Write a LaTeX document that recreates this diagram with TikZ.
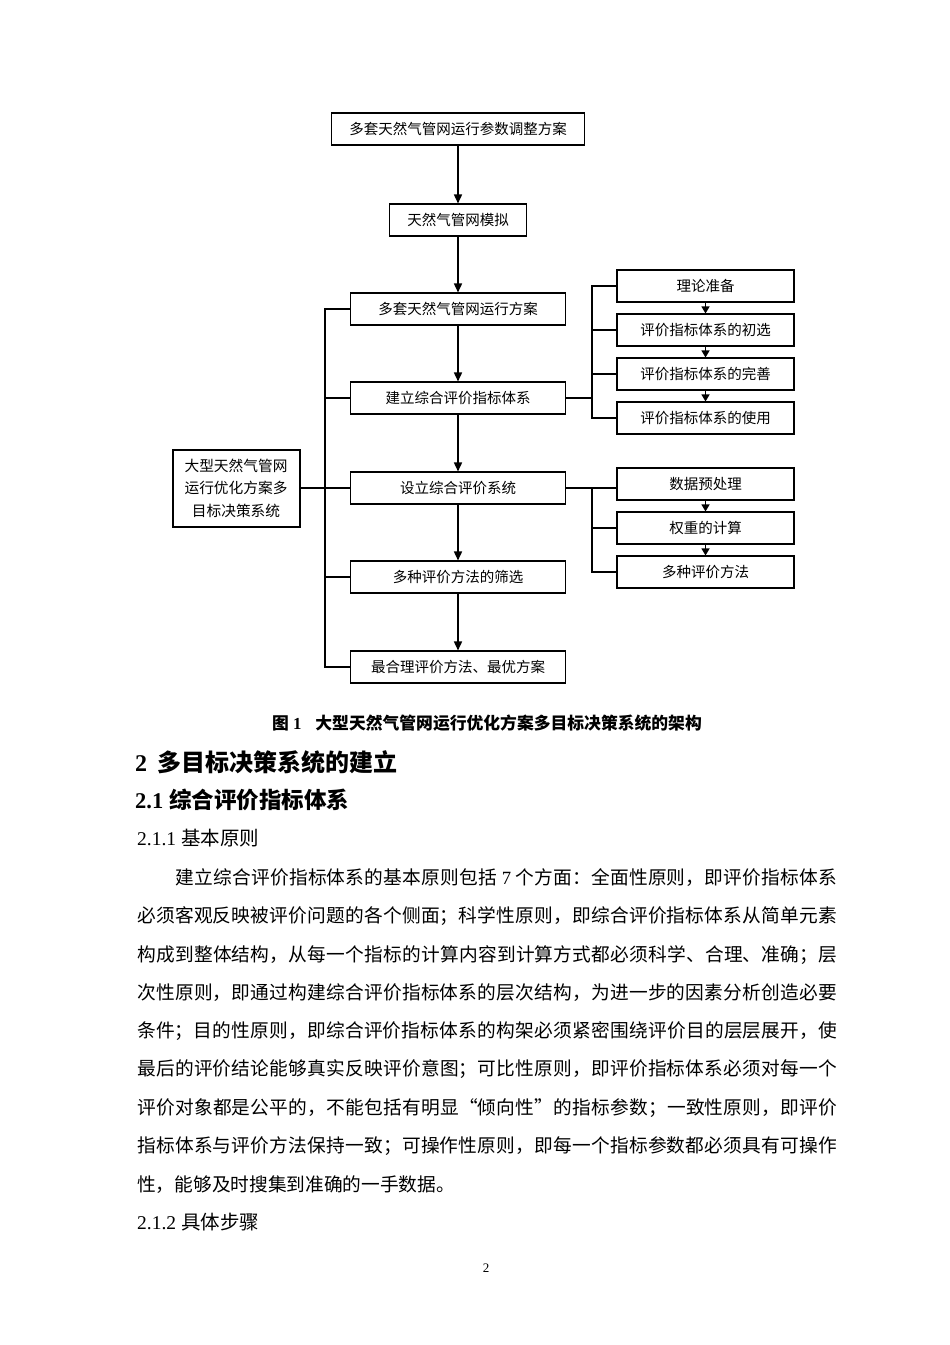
\documentclass[tikz,border=0pt]{standalone}
\usepackage{fontspec}
\setmainfont{Liberation Serif}
\newfontfamily\cjk{Noto Sans CJK SC}
\usetikzlibrary{arrows.meta}
\XeTeXlinebreaklocale "zh"
\XeTeXlinebreakskip=0pt plus 4pt
\tikzset{
 box/.style={draw, line width=1.1pt, minimum height=32pt, inner sep=0pt, font=\cjk\fontsize{14.5}{17}\selectfont},
 rbox/.style={box, minimum width=177pt},
 mbox/.style={box, minimum width=215pt},
 arr/.style={line width=1.6pt, -{Triangle[length=9pt,width=8pt]}},
 sarr/.style={line width=1.3pt, -{Triangle[length=7pt,width=8pt]}},
 conn/.style={line width=1.1pt},
 txt/.style={anchor=west, inner sep=0pt},
 body/.style={txt, font=\cjk\fontsize{18.7}{20}\selectfont},
}
\newcommand\jl[2]{\parbox[c]{#1}{\parindent=0pt\parfillskip=0pt\hbadness=10000 #2}}
\begin{document}
\begin{tikzpicture}[x=1pt,y=-1pt]
\useasboundingbox[fill=white] (0,0) rectangle (950,1345);
% main column
\node[box, minimum width=253pt] (b1) at (458,129) {多套天然气管网运行参数调整方案};
\node[box, minimum width=137pt] (b2) at (458,220) {天然气管网模拟};
\node[mbox] (b3) at (458,309) {多套天然气管网运行方案};
\node[mbox] (b4) at (458,398) {建立综合评价指标体系};
\node[mbox] (b5) at (458,488) {设立综合评价系统};
\node[mbox] (b6) at (458,577) {多种评价方法的筛选};
\node[mbox] (b7) at (458,667) {最合理评价方法、最优方案};
\node[box, line width=2pt, minimum width=127pt, minimum height=77pt, align=center, font=\cjk\fontsize{14.7}{22.5}\selectfont] (L) at (236,488) {大型天然气管网\\运行优化方案多\\目标决策系统};
% right groups
\node[rbox] (r1) at (705.5,286) {理论准备};
\node[rbox] (r2) at (705.5,330) {评价指标体系的初选};
\node[rbox] (r3) at (705.5,374) {评价指标体系的完善};
\node[rbox] (r4) at (705.5,418) {评价指标体系的使用};
\node[rbox] (s1) at (705.5,484) {数据预处理};
\node[rbox] (s2) at (705.5,528) {权重的计算};
\node[rbox] (s3) at (705.5,572) {多种评价方法};
\coordinate (LB) at (325,0);
\coordinate (RB) at (592,0);
% main arrows
\draw[arr] (b1.south) -- (b2.north);
\draw[arr] (b2.south) -- (b3.north);
\draw[arr] (b3.south) -- (b4.north);
\draw[arr] (b4.south) -- (b5.north);
\draw[arr] (b5.south) -- (b6.north);
\draw[arr] (b6.south) -- (b7.north);
% left bus
\draw[conn] (b3.west) -- (b3.west -| LB) -- (b7.west -| LB) -- (b7.west);
\draw[conn] (b4.west -| LB) -- (b4.west);
\draw[conn] (b6.west -| LB) -- (b6.west);
\draw[line width=2pt] (L.east) -- (L.east -| LB);
\draw[conn] (L.east -| LB) -- (b5.west);
% right bus 1
\draw[conn] (b4.east) -- (b4.east -| RB);
\draw[conn] (r1.west) -- (r1.west -| RB) -- (r4.west -| RB) -- (r4.west);
\draw[conn] (r2.west -| RB) -- (r2.west);
\draw[conn] (r3.west -| RB) -- (r3.west);
\draw[sarr] (r1.south) -- (r2.north);
\draw[sarr] (r2.south) -- (r3.north);
\draw[sarr] (r3.south) -- (r4.north);
% right bus 2
\draw[conn] (b5.east) -- (b5.east -| s1.west);
\draw[conn] (b5.east -| RB) -- (s3.west -| RB) -- (s3.west);
\draw[conn] (s2.west -| RB) -- (s2.west);
\draw[sarr] (s1.south) -- (s2.north);
\draw[sarr] (s2.south) -- (s3.north);
% caption and text
\node[txt, font=\cjk\bfseries\fontsize{16.8}{20}\selectfont] (cap) at (272,723) {图\hspace{4pt}{\rmfamily 1}\hspace{14pt}大型天然气管网运行优化方案多目标决策系统的架构};
\node[txt, font=\bfseries\fontsize{24}{28}\selectfont] (h1) at (135,762) {2\hspace{10pt}{\cjk 多目标决策系统的建立}};
\node[txt, font=\bfseries\fontsize{22.5}{26}\selectfont] (h2) at (135,800) {2.1\hspace{6pt}{\cjk 综合评价指标体系}};
\node[txt, font=\fontsize{19.5}{22}\selectfont] (h3) at (137,838) {2.1.1 {\cjk 基本原则}};
\node[body] (p1) at (175,878) {\jl{662pt}{建立综合评价指标体系的基本原则包括 {\rmfamily 7} 个方面：全面性原则，即评价指标体系}};
\node[body] (p2) at (137,916.3) {\jl{700pt}{必须客观反映被评价问题的各个侧面；科学性原则，即综合评价指标体系从简单元素}};
\node[body] (p3) at (137,954.6) {\jl{700pt}{构成到整体结构，从每一个指标的计算内容到计算方式都必须科学、合理、准确；层}};
\node[body] (p4) at (137,992.9) {\jl{700pt}{次性原则，即通过构建综合评价指标体系的层次结构，为进一步的因素分析创造必要}};
\node[body] (p5) at (137,1031.2) {\jl{700pt}{条件；目的性原则，即综合评价指标体系的构架必须紧密围绕评价目的层层展开，使}};
\node[body] (p6) at (137,1069.5) {\jl{700pt}{最后的评价结论能够真实反映评价意图；可比性原则，即评价指标体系必须对每一个}};
\node[body] (p7) at (137,1107.8) {\jl{700pt}{评价对象都是公平的，不能包括有明显“倾向性”的指标参数；一致性原则，即评价}};
\node[body] (p8) at (137,1146.1) {\jl{700pt}{指标体系与评价方法保持一致；可操作性原则，即每一个指标参数都必须具有可操作}};
\node[body] (p9) at (137,1184.4) {性，能够及时搜集到准确的一手数据。};
\node[txt, font=\fontsize{19.5}{22}\selectfont] (h4) at (137,1222) {2.1.2 {\cjk 具体步骤}};
\node[font=\fontsize{13}{15}\selectfont, inner sep=0pt] (pg) at (486,1268) {2};
\end{tikzpicture}
\end{document}
